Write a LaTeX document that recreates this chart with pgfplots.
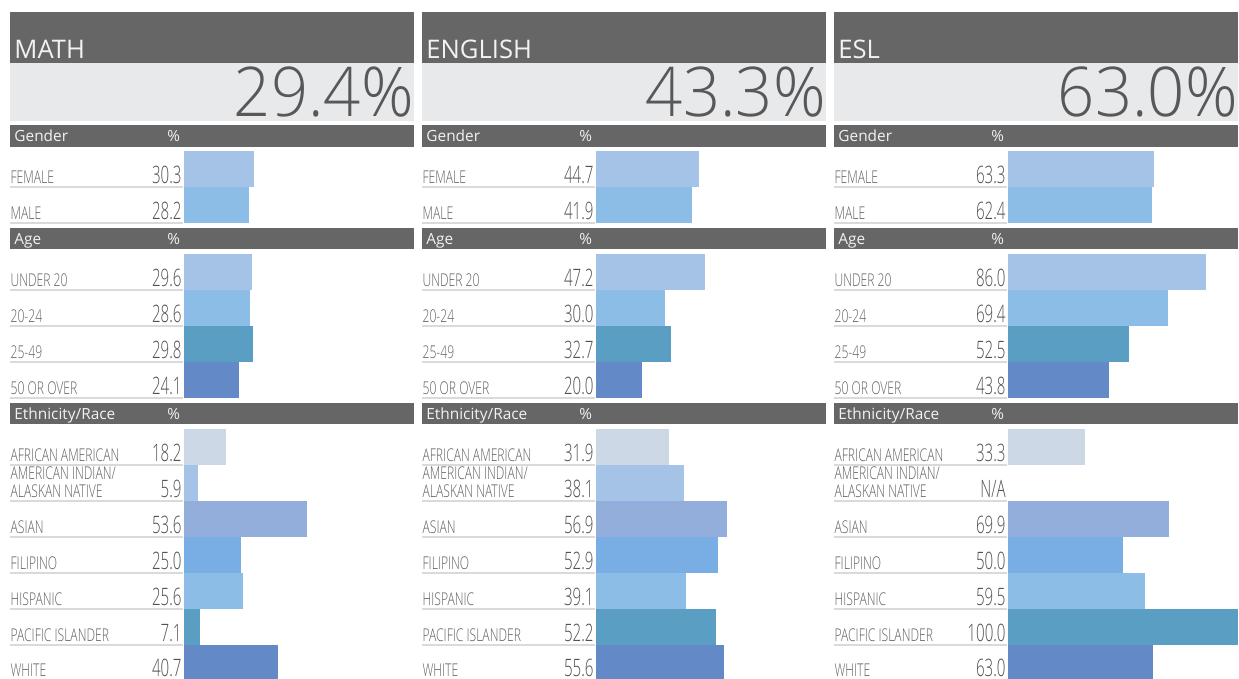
\documentclass[border=0pt]{standalone}
\usepackage{pgfplots}
\pgfplotsset{compat=1.18}
\usepackage{graphicx}
\usepackage{fontspec}
\setmainfont{Open Sans}
\newfontfamily\lightfont{Open Sans Light}
\definecolor{hdr}{HTML}{666666}
\definecolor{lgt}{HTML}{E8E9EA}
\definecolor{c1}{HTML}{A4C3E7}
\definecolor{c2}{HTML}{8BBDE6}
\definecolor{c3}{HTML}{5A9EC4}
\definecolor{c4}{HTML}{6389C6}
\definecolor{c5}{HTML}{CDD8E7}
\definecolor{c6}{HTML}{94AEDB}
\definecolor{c7}{HTML}{79AEE5}
\definecolor{lbltxt}{HTML}{606060}
\definecolor{valtxt}{HTML}{505050}
\definecolor{septxt}{HTML}{DADADA}
\definecolor{bigtxt}{HTML}{585858}
\definecolor{hdrtxt}{HTML}{F2F2F2}
\newcommand\lblfont{\lightfont\color{lbltxt}\fontsize{8.8}{8}\selectfont}
\newcommand\valfont{\lightfont\color{valtxt}\fontsize{12}{12}\selectfont}
\newcommand\rl[2]{\hbox to 85.5pt{\scalebox{0.69}[1]{\lblfont #1}\hfill\scalebox{0.63}[1]{\valfont #2}}}
\newcommand\amind{\begin{tabular}[b]{@{}l@{}}AMERICAN INDIAN/\\ALASKAN NATIVE\end{tabular}}
\pgfplotsset{
  panel/.style={
    scale only axis, width=115pt, height=264pt,
    anchor=north west,
    xmin=0, xmax=100, ymin=151, ymax=679, y dir=reverse,
    axis line style={draw=none}, tick style={draw=none},
    xtick=\empty,
    ytick={183,219,286,322,358,394,461,497,533,569,605,641,676},
    yticklabel style={anchor=base east, inner sep=0pt, xshift=-1pt},
    every axis plot/.append style={xbar, bar width=36, bar shift=0pt, draw=none, mark=none},
  }
}
\begin{document}
\begin{tikzpicture}
\begin{scope}[x=0.5pt,y=-0.5pt]
\useasboundingbox (0,0) rectangle (1239,679);
\foreach \X/\T/\N in {10/MATH/29.4, 422/ENGLISH/43.3, 834/ESL/63.0}{
  \fill[hdr] (\X,12) rectangle (\X+404,63);
  \fill[lgt] (\X,63) rectangle (\X+404,121);
  \fill[hdr] (\X,125) rectangle (\X+404,147);
  \fill[hdr] (\X,228) rectangle (\X+404,249);
  \fill[hdr] (\X,403) rectangle (\X+404,424);
  \node[anchor=base west, inner sep=0pt, text=hdrtxt, font=\fontsize{12.8}{13}\selectfont] at (\X+4,59) {\T};
  \node[anchor=base east, inner sep=0pt, text=bigtxt, font=\lightfont\fontsize{34.3}{35}\selectfont] at (\X+404,117) {\scalebox{0.95}[1]{\N\%}};
  \node[anchor=base west, inner sep=0pt, text=hdrtxt, font=\fontsize{7.7}{8}\selectfont] at (\X+4,142) {Gender};
  \node[anchor=base west, inner sep=0pt, text=hdrtxt, font=\fontsize{7.7}{8}\selectfont] at (\X+157,142) {\%};
  \node[anchor=base west, inner sep=0pt, text=hdrtxt, font=\fontsize{7.7}{8}\selectfont] at (\X+4,245) {Age};
  \node[anchor=base west, inner sep=0pt, text=hdrtxt, font=\fontsize{7.7}{8}\selectfont] at (\X+157,245) {\%};
  \node[anchor=base west, inner sep=0pt, text=hdrtxt, font=\fontsize{7.7}{8}\selectfont] at (\X+4,420) {Ethnicity/Race};
  \node[anchor=base west, inner sep=0pt, text=hdrtxt, font=\fontsize{7.7}{8}\selectfont] at (\X+157,420) {\%};
  \foreach \Y in {187,223,290,326,362,398,465,501,537,573,609,645}{
    \draw[septxt, line width=0.6pt] (\X,\Y) -- (\X+173,\Y);
  }
}
\end{scope}

% MATH
\begin{axis}[panel, at={(92pt,-75.5pt)},
  yticklabels={{\rl{FEMALE}{30.3}},{\rl{MALE}{28.2}},
    {\rl{UNDER 20}{29.6}},{\rl{20-24}{28.6}},{\rl{25-49}{29.8}},{\rl{50 OR OVER}{24.1}},
    {\rl{AFRICAN AMERICAN}{18.2}},{\rl{\amind}{5.9}},{\rl{ASIAN}{53.6}},{\rl{FILIPINO}{25.0}},
    {\rl{HISPANIC}{25.6}},{\rl{PACIFIC ISLANDER}{7.1}},{\rl{WHITE}{40.7}}}]
\addplot[fill=c1] coordinates {(30.3,169)};
\addplot[fill=c2] coordinates {(28.2,205)};
\addplot[fill=c1] coordinates {(29.6,272)};
\addplot[fill=c2] coordinates {(28.6,308)};
\addplot[fill=c3] coordinates {(29.8,344)};
\addplot[fill=c4] coordinates {(24.1,380)};
\addplot[fill=c5] coordinates {(18.2,447)};
\addplot[fill=c1] coordinates {(5.9,483)};
\addplot[fill=c6] coordinates {(53.6,519)};
\addplot[fill=c7] coordinates {(25.0,555)};
\addplot[fill=c2] coordinates {(25.6,591)};
\addplot[fill=c3] coordinates {(7.1,627)};
\addplot[fill=c4] coordinates {(40.7,663)};
\end{axis}

% ENGLISH
\begin{axis}[panel, at={(298pt,-75.5pt)},
  yticklabels={{\rl{FEMALE}{44.7}},{\rl{MALE}{41.9}},
    {\rl{UNDER 20}{47.2}},{\rl{20-24}{30.0}},{\rl{25-49}{32.7}},{\rl{50 OR OVER}{20.0}},
    {\rl{AFRICAN AMERICAN}{31.9}},{\rl{\amind}{38.1}},{\rl{ASIAN}{56.9}},{\rl{FILIPINO}{52.9}},
    {\rl{HISPANIC}{39.1}},{\rl{PACIFIC ISLANDER}{52.2}},{\rl{WHITE}{55.6}}}]
\addplot[fill=c1] coordinates {(44.7,169)};
\addplot[fill=c2] coordinates {(41.9,205)};
\addplot[fill=c1] coordinates {(47.2,272)};
\addplot[fill=c2] coordinates {(30.0,308)};
\addplot[fill=c3] coordinates {(32.7,344)};
\addplot[fill=c4] coordinates {(20.0,380)};
\addplot[fill=c5] coordinates {(31.9,447)};
\addplot[fill=c1] coordinates {(38.1,483)};
\addplot[fill=c6] coordinates {(56.9,519)};
\addplot[fill=c7] coordinates {(52.9,555)};
\addplot[fill=c2] coordinates {(39.1,591)};
\addplot[fill=c3] coordinates {(52.2,627)};
\addplot[fill=c4] coordinates {(55.6,663)};
\end{axis}

% ESL
\begin{axis}[panel, at={(504pt,-75.5pt)},
  yticklabels={{\rl{FEMALE}{63.3}},{\rl{MALE}{62.4}},
    {\rl{UNDER 20}{86.0}},{\rl{20-24}{69.4}},{\rl{25-49}{52.5}},{\rl{50 OR OVER}{43.8}},
    {\rl{AFRICAN AMERICAN}{33.3}},{\rl{\amind}{N/A}},{\rl{ASIAN}{69.9}},{\rl{FILIPINO}{50.0}},
    {\rl{HISPANIC}{59.5}},{\rl{PACIFIC ISLANDER}{100.0}},{\rl{WHITE}{63.0}}}]
\addplot[fill=c1] coordinates {(63.3,169)};
\addplot[fill=c2] coordinates {(62.4,205)};
\addplot[fill=c1] coordinates {(86.0,272)};
\addplot[fill=c2] coordinates {(69.4,308)};
\addplot[fill=c3] coordinates {(52.5,344)};
\addplot[fill=c4] coordinates {(43.8,380)};
\addplot[fill=c5] coordinates {(33.3,447)};
\addplot[fill=c6] coordinates {(69.9,519)};
\addplot[fill=c7] coordinates {(50.0,555)};
\addplot[fill=c2] coordinates {(59.5,591)};
\addplot[fill=c3] coordinates {(100.0,627)};
\addplot[fill=c4] coordinates {(63.0,663)};
\end{axis}
\end{tikzpicture}
\end{document}
